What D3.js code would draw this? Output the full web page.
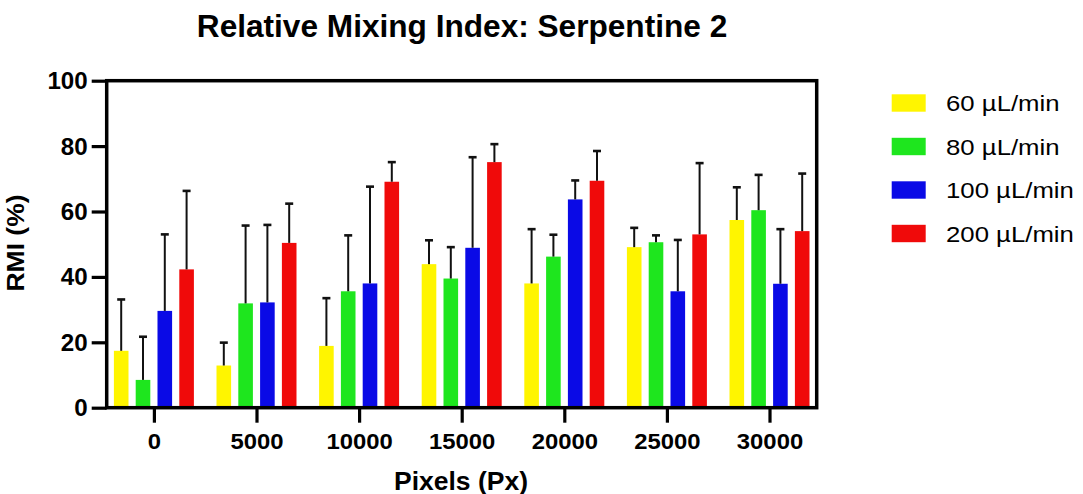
<!DOCTYPE html>
<html>
<head>
<meta charset="utf-8">
<script src="https://cdn.jsdelivr.net/npm/d3@7"></script>
<style>
  html, body { margin: 0; padding: 0; background: #fff; }
  svg { display: block; }
  text { font-family: Arial, "Liberation Sans", Helvetica, sans-serif; fill: #000; }
</style>
</head>
<body>
<svg id="chart" width="1083" height="494"></svg>
<script>
// Pixel offsets along the channel
const categories = ["0", "5000", "10000", "15000", "20000", "25000", "30000"];
// Flow rates
const series = ["60 µL/min", "80 µL/min", "100 µL/min", "200 µL/min"];
const colors = ["#FFF500", "#1EE61E", "#0A0AE6", "#F00A0A"];

// Mean RMI (%) per flow rate
const rmi60  = [17.4, 12.9, 18.9, 43.9, 38.0, 49.1, 57.4];
const rmi80  = [8.5, 31.9, 35.6, 39.5, 46.2, 50.6, 60.4];
const rmi100 = [29.6, 32.2, 38.0, 48.9, 63.7, 35.6, 37.9];
const rmi200 = [42.3, 50.4, 69.1, 75.1, 69.4, 53.0, 54.0];

// Standard deviation (upper error bar)
const sd60  = [15.7, 7.0, 14.6, 7.3, 16.6, 5.9, 10.0];
const sd80  = [13.2, 23.8, 17.1, 9.6, 6.7, 2.1, 10.8];
const sd100 = [23.4, 23.7, 29.6, 27.7, 5.8, 15.7, 16.7];
const sd200 = [24.0, 12.0, 6.0, 5.5, 9.1, 21.8, 17.6];

const yTicks = [0, 20, 40, 60, 80, 100];

const means = [rmi60, rmi80, rmi100, rmi200];
const sds = [sd60, sd80, sd100, sd200];

const rows = [];
series.forEach((s, si) => {
  categories.forEach((c, ci) => {
    rows.push({ cat: c, series: s, si, value: means[si][ci], sd: sds[si][ci] });
  });
});

const svg = d3.select("#chart");
const plot = { left: 106.7, right: 816.7, top: 80.7, bottom: 407.7 };

const x = d3.scalePoint().domain(categories).range([plot.left, plot.right]).padding(0.46);
const xInner = d3.scaleBand().domain(series).range([-40, 40]).paddingInner(0.33).paddingOuter(0);
const y = d3.scaleLinear().domain([0, 100]).range([plot.bottom, plot.top]);
const color = d3.scaleOrdinal().domain(series).range(colors);

// Text helper with an optional horizontal stretch
function label(g, str, px, py, opts) {
  const o = Object.assign({ size: 22, weight: "bold", anchor: "middle", sx: 1.0, rotate: 0 }, opts || {});
  return g.append("text")
    .attr("transform", `translate(${px},${py}) rotate(${o.rotate}) scale(${o.sx},1)`)
    .attr("text-anchor", o.anchor)
    .style("font-size", o.size + "px")
    .style("font-weight", o.weight)
    .text(str);
}

// Bars
svg.append("g").selectAll("rect")
  .data(rows)
  .join("rect")
  .attr("x", d => x(d.cat) + xInner(d.series))
  .attr("width", xInner.bandwidth())
  .attr("y", d => y(d.value))
  .attr("height", d => y(0) - y(d.value))
  .attr("fill", d => color(d.series));

// Upper error bars
const err = svg.append("g").attr("stroke", "#111").attr("stroke-width", 2);
rows.forEach(d => {
  const cx = x(d.cat) + xInner(d.series) + xInner.bandwidth() / 2;
  err.append("line").attr("x1", cx).attr("x2", cx)
    .attr("y1", y(d.value)).attr("y2", y(d.value + d.sd));
  err.append("line").attr("x1", cx - 4).attr("x2", cx + 4)
    .attr("y1", y(d.value + d.sd)).attr("y2", y(d.value + d.sd))
    .attr("stroke-width", 2.6);
});

// Frame
svg.append("rect")
  .attr("x", plot.left).attr("y", plot.top)
  .attr("width", plot.right - plot.left).attr("height", plot.bottom - plot.top)
  .attr("fill", "none").attr("stroke", "#000").attr("stroke-width", 3.5);

// Y axis
const yAxis = svg.append("g").attr("transform", `translate(${plot.left},0)`)
  .call(d3.axisLeft(y).tickValues(yTicks).tickSize(15).tickFormat(d3.format("d")));
yAxis.select(".domain").remove();
yAxis.selectAll(".tick line").attr("stroke", "#000").attr("stroke-width", 3.2);
yAxis.selectAll(".tick text").remove();
yAxis.selectAll(".tick").each(function(d) {
  label(d3.select(this), String(d), -19, 8, { size: 23, anchor: "end", sx: 1.05 });
});

// X axis
const xAxis = svg.append("g").attr("transform", `translate(0,${plot.bottom})`)
  .call(d3.axisBottom(x).tickSize(15));
xAxis.select(".domain").remove();
xAxis.selectAll(".tick line").attr("stroke", "#000").attr("stroke-width", 3.2);
xAxis.selectAll(".tick text").remove();
xAxis.selectAll(".tick").each(function(d) {
  label(d3.select(this), d, 0, 41.5, { size: 22.5, sx: 1.06 });
});

// Titles
label(svg, "Relative Mixing Index: Serpentine 2", 462, 37, { size: 31, sx: 1.02 });
label(svg, "Pixels (Px)", 461, 490, { size: 25, sx: 1.06 });
label(svg, "RMI (%)", 24, 243, { size: 24.5, sx: 1.08, rotate: -90 });

// Legend
const legend = svg.append("g");
series.forEach((s, i) => {
  const cy = 103 + i * 43.5;
  legend.append("rect")
    .attr("x", 891.7).attr("y", cy - 8.7)
    .attr("width", 34).attr("height", 17.4)
    .attr("fill", colors[i]);
  label(legend, s, 946, cy + 8.3, { size: 23, weight: "normal", anchor: "start", sx: 1.12 });
});
</script>
</body>
</html>
